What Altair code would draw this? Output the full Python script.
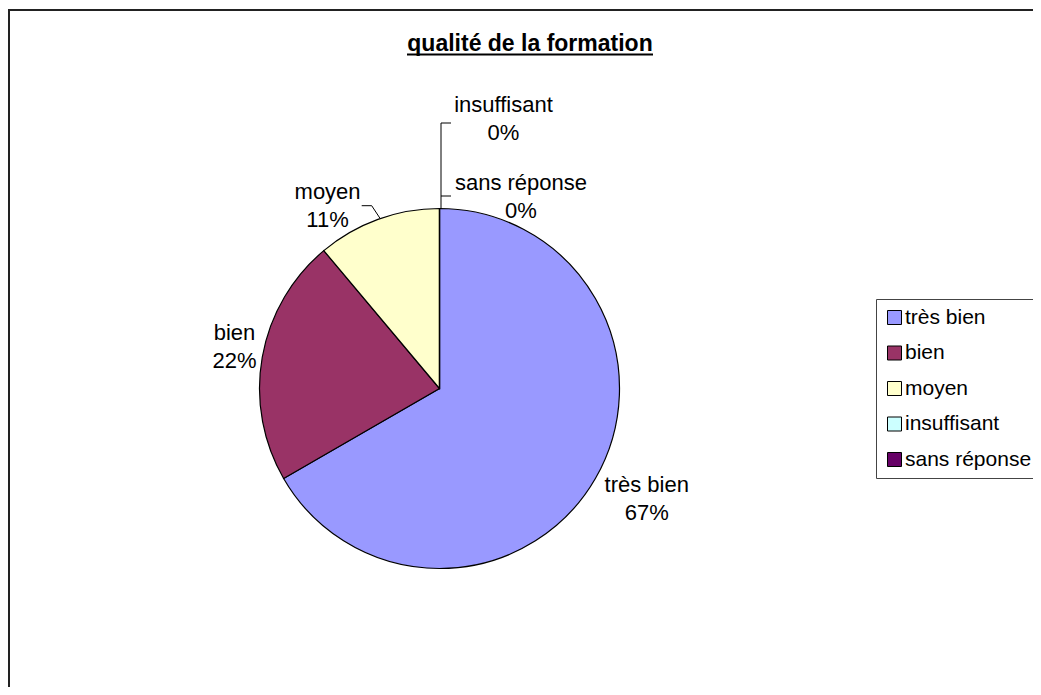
import altair as alt
import pandas as pd

# ---- data ----
categories = ["très bien", "bien", "moyen", "insuffisant", "sans réponse"]
counts = [6, 2, 1, 0, 0]
percent_labels = ["67%", "22%", "11%", "0%", "0%"]
colors = ["#9999FF", "#993366", "#FFFFCC", "#CCFFFF", "#660066"]
title_text = "qualité de la formation"

df = pd.DataFrame({
    "cat": categories,
    "value": counts,
    "pct": percent_labels,
    "idx": list(range(len(categories))),
})

# ---- layout (plot-area pixels) ----
W, H = 1025, 679
CX, CY, R = 431.5, 380.5, 180
LR = 222
FONT = "Liberation Sans"

base = alt.Chart(df)

pie = base.mark_arc(radius=R, stroke="black", strokeWidth=1.2).encode(
    theta=alt.Theta("value:Q", stack=True),
    order=alt.Order("idx:Q"),
    color=alt.Color(
        "cat:N",
        scale=alt.Scale(domain=categories, range=colors),
        sort=categories,
        legend=alt.Legend(
            orient="none", legendX=868, legendY=291, title=None,
            symbolType="square", symbolSize=196, symbolStrokeColor="black",
            symbolStrokeWidth=1, symbolOpacity=1,
            labelFontSize=21, labelFont=FONT, labelColor="black",
            labelOffset=0, rowPadding=13.5, padding=8,
            strokeColor="#444", fillColor="white", labelLimit=400,
        ),
    ),
    x=alt.value(CX),
    y=alt.value(CY),
)

label_base = base.transform_joinaggregate(
    total="sum(value)"
).transform_window(
    cum="sum(value)", sort=[alt.SortField("idx")], frame=[None, 0]
).transform_calculate(
    mid="2*PI*(datum.cum - datum.value/2)/datum.total"
).transform_calculate(
    lx=f"{CX} + {LR}*sin(datum.mid)",
    ly=f"{CY} - {LR}*cos(datum.mid)",
    txt="datum.cat + '\\n' + datum.pct",
)

# label nudges (Excel best-fit placement)
nudges = {
    "très bien": (15, -15),
    "bien": (13.6, -17),
    "moyen": (-36, 12),
    "insuffisant": (64, -62),
    "sans réponse": (81.5, 16),
}

label_layers = []
for c in categories:
    dx, dy = nudges[c]
    label_layers.append(
        label_base.transform_filter(alt.datum.cat == c).mark_text(
            font=FONT, fontSize=22, color="black", align="center",
            baseline="middle", lineBreak="\n", lineHeight=28, dx=dx, dy=dy,
        ).encode(
            x=alt.X("lx:Q", scale=None),
            y=alt.Y("ly:Q", scale=None),
            text="txt:N",
        )
    )

one = alt.Data(values=[{}])


def seg(x1, y1, x2, y2, width=1.0, color="black"):
    return alt.Chart(one).mark_rule(color=color, strokeWidth=width).encode(
        x=alt.value(x1), y=alt.value(y1), x2=alt.value(x2), y2=alt.value(y2)
    )


leaders = [
    seg(353.7, 197.7, 363.7, 197.7),
    seg(363.7, 197.7, 372, 210.3),
    seg(433, 115, 433, 201),
    seg(433, 115, 443, 115),
    seg(433, 188, 443, 188),
]

title = alt.Chart(one).mark_text(
    font=FONT, fontSize=23, fontWeight="bold", color="black",
    align="center", baseline="alphabetic",
).encode(x=alt.value(522), y=alt.value(43), text=alt.value(title_text))

underline = seg(399, 46.5, 645, 46.5, width=2)

frame = [
    seg(0, 2, W, 2, width=2, color="#222"),
    seg(1, 2, 1, H, width=2, color="#222"),
]

chart = alt.layer(
    pie, *label_layers, *leaders, title, underline, *frame
).properties(
    width=W, height=H,
    autosize=alt.AutoSizeParams(type="none"),
    padding=0,
).configure_view(stroke=None)

chart.save("out.html", embed_options={"renderer": "svg", "actions": False})
